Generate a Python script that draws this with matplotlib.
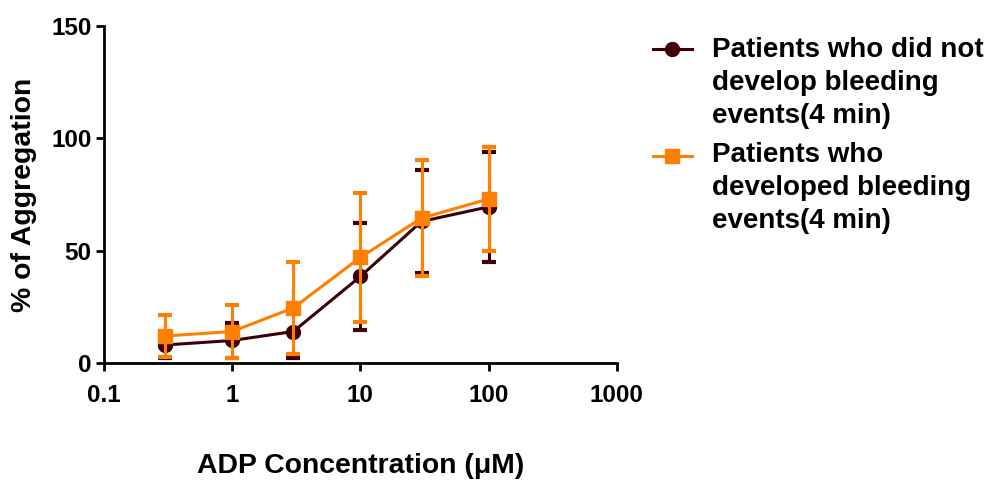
import matplotlib
matplotlib.use("Agg")
import matplotlib.pyplot as plt
from matplotlib.lines import Line2D
from matplotlib.ticker import FixedLocator, NullLocator

plt.rcParams['font.family'] = ['Liberation Sans', 'DejaVu Sans']
plt.rcParams['font.weight'] = 'bold'

# ADP concentrations (uM)
adp_conc = [0.3, 1, 3, 10, 30, 100]

# patients without bleeding events: mean and SD
no_bleed_mean = [8, 10, 14, 38.5, 63, 69.5]
no_bleed_sd = [6, 8, 12, 24, 23, 24.5]

# patients with bleeding events: mean and SD
bleed_mean = [12, 14, 24.5, 47, 64.5, 73]
bleed_sd = [9.5, 12, 20.5, 28.6, 26, 23]

x_ticks = [0.1, 1, 10, 100, 1000]
x_tick_labels = ['0.1', '1', '10', '100', '1000']
y_ticks = [0, 50, 100, 150]

labels = ['Patients who did not\ndevelop bleeding\nevents(4 min)',
          'Patients who\ndeveloped bleeding\nevents(4 min)']

dark = '#3d0008'
orange = '#ff8000'

fig = plt.figure(figsize=(9.9, 4.82), dpi=100)
ax = fig.add_axes([0.105, 0.247, 0.518, 0.699])

ax.errorbar(adp_conc, no_bleed_mean, yerr=no_bleed_sd, color=dark, marker='o',
            markersize=10, linewidth=2.2, elinewidth=2.2, capsize=5, capthick=3,
            zorder=2, clip_on=False)
ax.errorbar(adp_conc, bleed_mean, yerr=bleed_sd, color=orange, marker='s',
            markersize=10, linewidth=2.2, elinewidth=2.2, capsize=5, capthick=3,
            zorder=3, clip_on=False)

ax.set_xscale('log')
ax.set_xlim(0.1, 1000)
ax.set_ylim(0, 150)
ax.xaxis.set_major_locator(FixedLocator(x_ticks))
ax.xaxis.set_minor_locator(NullLocator())
ax.set_xticklabels(x_tick_labels)
ax.set_yticks(y_ticks)

for side in ['top', 'right']:
    ax.spines[side].set_visible(False)
for side in ['left', 'bottom']:
    ax.spines[side].set_linewidth(2)

ax.tick_params(axis='both', direction='out', length=6, width=2, labelsize=17.5)
ax.tick_params(axis='x', pad=9)
ax.tick_params(axis='y', pad=3)
for lbl in ax.get_xticklabels() + ax.get_yticklabels():
    lbl.set_fontweight('bold')

ax.set_xlabel('ADP Concentration (\u03bcM)', fontsize=20.4, fontweight='bold', labelpad=33)
ax.set_ylabel('% of Aggregation', fontsize=20.4, fontweight='bold', labelpad=10)

# legend drawn by hand so each key lines up with the first line of its label
W, H = 990, 482
key_style = [(dark, 'o'), (orange, 's')]
key_y = [49, 156]         # key centre, px from top
last_baseline = [123, 228]  # baseline of each label's last line, px from top
for (col, mk), ky, lb, lab in zip(key_style, key_y, last_baseline, labels):
    fy = 1 - ky / H
    fig.add_artist(Line2D([653 / W, 692 / W], [fy, fy], color=col, linewidth=2.2,
                          transform=fig.transFigure))
    fig.add_artist(Line2D([672 / W], [fy], color=col, marker=mk, markersize=10,
                          transform=fig.transFigure))
    fig.text(712 / W, 1 - lb / H, lab, fontsize=20, fontweight='bold',
             ha='left', va='baseline', linespacing=1.34)

fig.savefig('out.png', dpi=100)
